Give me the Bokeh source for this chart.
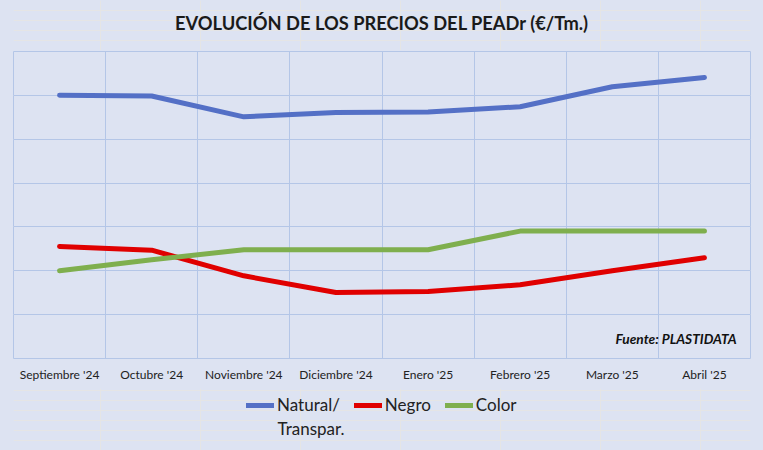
from bokeh.plotting import figure
from bokeh.models import FixedTicker, Grid, Legend, LegendItem, Label, Range1d
from bokeh.layouts import column
from bokeh.embed import file_html
from bokeh.resources import INLINE

categories = ["Septiembre '24", "Octubre '24", "Noviembre '24", "Diciembre '24",
              "Enero '25", "Febrero '25", "Marzo '25", "Abril '25"]
natural = [1200, 1197, 1102, 1122, 1124, 1148, 1239, 1281]
negro = [511, 494, 377, 301, 306, 336, 400, 459]
color = [400, 450, 496, 496, 496, 581, 581, 581]
series_labels = ["Natural/", "Negro", "Color"]
label_second_line = "Transpar."
title_text = "EVOLUCIÓN DE LOS PRECIOS DEL PEADr (€/Tm.)"

BG = "#DDE3F2"
GRID = "#B4C6E7"
FONT = "Lato"
COLORS = ["#5470C6", "#E00000", "#7FAF4E"]


def panel(top, bottom):
    """A plain figure whose ranges map straight to page pixels."""
    f = figure(frame_width=737, frame_height=bottom - top, output_backend="svg",
               toolbar_location=None, x_range=Range1d(13, 750), y_range=Range1d(bottom, top),
               x_axis_location=None, y_axis_location=None,
               min_border_left=13, min_border_right=13, min_border_top=0, min_border_bottom=0)
    f.background_fill_color = BG
    f.border_fill_color = BG
    f.outline_line_color = BG
    f.outline_line_width = 3
    f.styles = {"background-color": BG}
    return f


# title panel
tp = panel(0, 50)
tp.add_layout(Label(x=381.5, y=22, text=title_text, text_align="center", text_baseline="middle",
                    text_font=FONT, text_font_size="18.3px", text_font_style="bold",
                    text_color="#1a1a1a"))

# chart
xs = [i + 0.5 for i in range(len(categories))]
p = figure(frame_width=737, frame_height=307, output_backend="svg", toolbar_location=None,
           x_range=Range1d(0, len(categories)), y_range=Range1d(0, 1400),
           y_axis_location=None,
           min_border_left=13, min_border_right=13, min_border_top=1, min_border_bottom=30)
p.background_fill_color = BG
p.border_fill_color = BG
p.outline_line_color = GRID
p.outline_line_width = 1
p.styles = {"background-color": BG}

p.xaxis.ticker = FixedTicker(ticks=xs)
p.xaxis.major_label_overrides = {x: c for x, c in zip(xs, categories)}
p.xaxis.axis_line_color = None
p.xaxis.major_tick_line_color = None
p.xaxis.minor_tick_line_color = None
p.xaxis.major_label_text_font = FONT
p.xaxis.major_label_text_font_size = "12px"
p.xaxis.major_label_text_color = "#222222"
p.xaxis.major_label_standoff = 2

p.xgrid.ticker = FixedTicker(ticks=list(range(len(categories) + 1)))
p.xgrid.grid_line_color = GRID
p.add_layout(Grid(dimension=1, ticker=FixedTicker(ticks=list(range(0, 1401, 200))),
                  grid_line_color=GRID))

for ys, c in zip([natural, negro, color], COLORS):
    p.line(xs, ys, line_color=c, line_width=5, line_cap="round", line_join="round")

p.add_layout(Label(x=7.85, y=90, text="Fuente: PLASTIDATA", text_align="right",
                   text_baseline="middle", text_font=FONT, text_font_size="13.7px",
                   text_font_style="bold italic", text_color="#111111"))

# legend panel
lg = panel(388, 450)
items = []
nan = float("nan")
for lab, c in zip(series_labels, COLORS):
    r = lg.line([nan], [nan], line_color=c, line_width=5, line_cap="round")
    items.append(LegendItem(label=lab, renderers=[r]))
legend = Legend(items=items, orientation="horizontal", location=(233, 35),
                background_fill_alpha=0, border_line_color=None,
                label_text_font=FONT, label_text_font_size="17px", label_text_color="#222222",
                glyph_width=28, label_standoff=3, spacing=14, padding=0, margin=0)
lg.add_layout(legend)
lg.add_layout(Label(x=277, y=428, text=label_second_line, text_baseline="middle",
                    text_font=FONT, text_font_size="17px", text_color="#222222"))

layout = column(tp, p, lg, spacing=0)
layout.styles = {"background-color": BG}
open("out.html", "w").write(file_html(layout, INLINE))
